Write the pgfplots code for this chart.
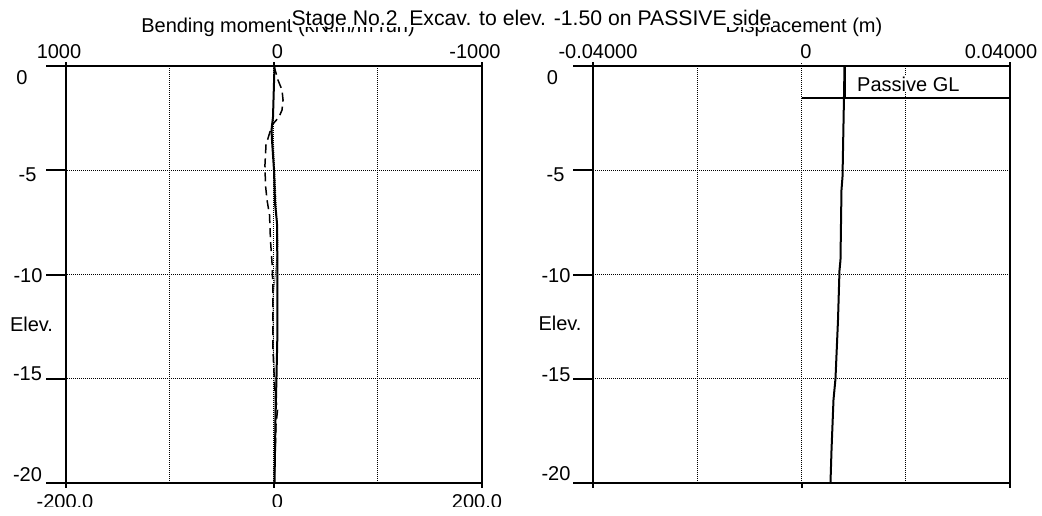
\documentclass[border=0pt]{standalone}
\usepackage{fontspec}
\setmainfont{Liberation Sans}
\usepackage{pgfplots}
\pgfplotsset{compat=1.18}

\pgfplotsset{
  frame/.style={
    width=417pt, height=417pt, scale only axis,
    ymin=-20, ymax=0,
    ytick={-5,-10,-15},
    xticklabels=\empty, yticklabels=\empty,
    scaled x ticks=false, scaled y ticks=false,
    tick style={draw=none},
    grid=major,
    major grid style={black, line width=1pt, dash pattern=on 1pt off 1pt},
    axis line style={line width=2pt},
    clip=false,
  },
  bm/.style={line width=2pt, black},
  sh/.style={line width=1.5pt, black, dash pattern=on 9pt off 5pt},
}
\tikzset{tk/.style={line width=2pt, black}}

\begin{document}
\fontsize{20}{24}\selectfont
\begin{tikzpicture}[x=1pt,y=1pt]
\useasboundingbox (0,0) rectangle (1042,-516);

% ---------------- left: bending moment / shear ----------------
\begin{axis}[frame, at={(66pt,-483pt)}, anchor=south west, width=416pt,
  xmin=-1000, xmax=1000, x dir=reverse, xtick={500,0,-500}]
  % bending moment (kN.m/m run)
  \addplot[bm] coordinates {
    (-2.4,0) (4.8,-2.45) (12,-3.07) (9.6,-3.55) (0,-4.99) (-4.8,-6.57)
    (-14.4,-7.53) (-16.8,-10.12) (-16.8,-12.66) (-12,-14.92) (-7.2,-16.98) (-2.4,-20)
  };
  \addplot[black, line width=1pt, dash pattern=on 1pt off 1pt] coordinates {
    (7.2,-2.49) (4.8,-3.31) (-14.4,-7.53) (-19.2,-8.58) (-9.6,-9.69)
    (4.8,-11.08) (2.4,-13.77) (-4.8,-15.06) (-2.4,-20)
  };
  % ticks
  \draw[tk] (rel axis cs:0,1) -- ++(-20pt,0pt);
  \draw[tk] (rel axis cs:0,0) -- ++(-20pt,0pt);
  \draw[tk] (axis cs:1000,-5) -- ++(-20pt,0pt);
  \draw[tk] (axis cs:1000,-10) -- ++(-20pt,0pt);
  \draw[tk] (axis cs:1000,-15) -- ++(-20pt,0pt);
  \draw[tk] (rel axis cs:0,1) -- ++(0pt,4pt);
  \draw[tk] (rel axis cs:0.5,1) -- ++(0pt,4pt);
  \draw[tk] (rel axis cs:1,1) -- ++(0pt,4pt);
  \draw[tk] (rel axis cs:0,0) -- ++(0pt,-5pt);
  \draw[tk] (rel axis cs:0.5,0) -- ++(0pt,-5pt);
  \draw[tk] (rel axis cs:1,0) -- ++(0pt,-5pt);
\end{axis}
\begin{axis}[at={(66pt,-483pt)}, anchor=south west, width=416pt, height=417pt,
  scale only axis, hide axis, xmin=-200, xmax=200, ymin=-20, ymax=0, clip=false]
  % shear force
  \addplot[sh] coordinates {
    (0,0) (3.8,-0.67) (7.7,-1.15) (8.7,-1.63) (7.7,-2.11) (4.8,-2.45)
    (-1.9,-2.83) (-7.7,-3.79) (-8.7,-4.75) (-8.2,-5.71) (-6.7,-6.43)
    (-4.3,-7.15) (-3.4,-8.35) (-1.9,-9.45) (-1.0,-10.74) (-1.0,-13.62)
    (1.0,-15.78) (3.4,-16.5) (1.9,-17.22) (1.0,-18.9) (0,-20)
  };
\end{axis}

% ---------------- right: displacement ----------------
\begin{axis}[frame, at={(593pt,-483pt)}, anchor=south west,
  xmin=-0.04, xmax=0.04, xtick={-0.02,0,0.02}]
  \addplot[bm] coordinates {
    (0.00825,0) (0.00815,-1.5) (0.00787,-5.3) (0.00767,-5.95) (0.00748,-9.3)
    (0.00729,-9.8) (0.00700,-12.2) (0.00652,-15) (0.00614,-16)
    (0.00576,-18.4) (0.00556,-20)
  };
  % passive ground level
  \addplot[bm] coordinates {(0,-1.55) (0.04,-1.55)};
  \addplot[bm] coordinates {(0.00825,0) (0.00825,-1.55)};
  \node[fill=white, inner sep=1pt] at (axis cs:0.0205,-0.86) {Passive GL};
  % ticks
  \draw[tk] (rel axis cs:0,1) -- ++(-20pt,0pt);
  \draw[tk] (rel axis cs:0,0) -- ++(-20pt,0pt);
  \draw[tk] (axis cs:-0.04,-5) -- ++(-20pt,0pt);
  \draw[tk] (axis cs:-0.04,-10) -- ++(-20pt,0pt);
  \draw[tk] (axis cs:-0.04,-15) -- ++(-20pt,0pt);
  \draw[tk] (rel axis cs:0,1) -- ++(0pt,4pt);
  \draw[black, line width=1pt, dash pattern=on 1pt off 1pt] (rel axis cs:0.5,1) -- ++(0pt,4pt);
  \draw[tk] (rel axis cs:1,1) -- ++(0pt,4pt);
  \draw[tk] (rel axis cs:0,0) -- ++(0pt,-5pt);
  \draw[tk] (rel axis cs:0.5,0) -- ++(0pt,-5pt);
  \draw[tk] (rel axis cs:1,0) -- ++(0pt,-5pt);
\end{axis}

% ---------------- tick labels ----------------
\node at (22,-78) {0};
\node at (27.5,-175) {-5};
\node at (28,-276) {-10};
\node at (27.5,-373.5) {-15};
\node at (27.5,-474.5) {-20};
\node at (31.5,-324) {Elev.};

\node at (552.5,-77.5) {0};
\node at (555.5,-175) {-5};
\node at (556,-276) {-10};
\node at (556,-375) {-15};
\node at (556,-474) {-20};
\node at (560,-323.5) {Elev.};

\node at (59,-51.5) {1000};
\node at (277.5,-51.5) {0};
\node at (475,-51.5) {-1000};
\node at (598,-51.5) {-0.04000};
\node at (806,-51.5) {0};
\node at (1001,-51.5) {0.04000};

\node at (65,-502) {-200.0};
\node at (277.5,-502) {0};
\node at (477,-502) {200.0};
\fill[white] (0,-507) rectangle (1042,-516);

% ---------------- axis titles and main title ----------------
\node[anchor=base] at (278,-32.5) {Bending moment (kN.m/m run)};
\node[anchor=base] at (804,-32.5) {Displacement (m)};
\fill[white] (290,-3) rectangle (773,-27.5);
\node[anchor=base, inner sep=0pt] at (531.5,-26) {\fontsize{21.2}{24}\selectfont Stage No.2\ \ Excav. to elev. -1.50 on PASSIVE side};
\end{tikzpicture}
\end{document}
